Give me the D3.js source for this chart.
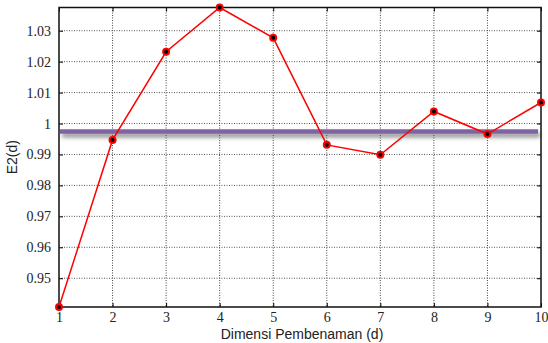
<!DOCTYPE html>
<html>
<head>
<meta charset="utf-8">
<script src="https://cdn.jsdelivr.net/npm/d3@7"></script>
<style>
  body { margin: 0; background: #fff; }
  svg text.tl { font-family: "Liberation Serif", "DejaVu Serif", serif; font-size: 14px; }
  svg text.al { font-family: "Liberation Sans", Arial, sans-serif; font-size: 14px; }
</style>
</head>
<body>
<svg id="chart" width="548" height="343"></svg>
<script>
// dimensi pembenaman vs E2(d)
var dims = [1, 2, 3, 4, 5, 6, 7, 8, 9, 10];
var e2Values = [0.9407, 0.9947, 1.0232, 1.0375, 1.0277, 0.9931, 0.9899, 1.0039, 0.9966, 1.0068];
var refLevel = 0.9974;
var yTickVals = [0.95, 0.96, 0.97, 0.98, 0.99, 1.00, 1.01, 1.02, 1.03];
var yTickLbls = ["0.95", "0.96", "0.97", "0.98", "0.99", "1", "1.01", "1.02", "1.03"];

var pLeft = 59, pRight = 541, pTop = 7.5, pBottom = 307;
var svg = d3.select("#chart");

var x = d3.scaleLinear().domain([1, 10]).range([pLeft, pRight]);
var y = d3.scaleLinear().domain(d3.extent(e2Values)).range([pBottom, pTop]);

var defs = svg.append("defs");
var filt = defs.append("filter").attr("id", "shadow")
  .attr("filterUnits", "userSpaceOnUse")
  .attr("x", 0).attr("y", 100).attr("width", 548).attr("height", 60);
filt.append("feDropShadow").attr("dx", 2).attr("dy", 3.5).attr("stdDeviation", 2)
  .attr("flood-color", "#555").attr("flood-opacity", 0.7);

// grid
var grid = svg.append("g");
grid.selectAll(".gx").data(dims.slice(1, -1)).enter().append("line")
  .attr("x1", function(d){ return x(d); }).attr("x2", function(d){ return x(d); })
  .attr("y1", pTop).attr("y2", pBottom)
  .attr("stroke", "#444").attr("stroke-width", 1).attr("stroke-dasharray", "1,1.5");
grid.selectAll(".gy").data(yTickVals).enter().append("line")
  .attr("x1", pLeft).attr("x2", pRight)
  .attr("y1", function(d){ return y(d); }).attr("y2", function(d){ return y(d); })
  .attr("stroke", "#555").attr("stroke-width", 1).attr("stroke-dasharray", "1,1.5");

function styleLbls(g) {
  g.attr("font-family", null).attr("font-size", null);
  g.select(".domain").remove();
  g.selectAll("text").attr("class", "tl").attr("fill", "#222");
}

// axes (ticks inward)
svg.append("g").attr("transform", "translate(0," + pBottom + ")")
  .call(d3.axisBottom(x).tickValues(dims).tickSize(-4).tickPadding(5).tickFormat(d3.format("d")))
  .call(styleLbls);
svg.append("g").attr("transform", "translate(0," + pTop + ")")
  .call(d3.axisTop(x).tickValues(dims).tickSize(-4).tickFormat(""))
  .call(styleLbls);
svg.append("g").attr("transform", "translate(" + pLeft + ",0)")
  .call(d3.axisLeft(y).tickValues(yTickVals).tickSize(-4).tickPadding(8)
    .tickFormat(function(d, i){ return yTickLbls[i]; }))
  .call(styleLbls);
svg.append("g").attr("transform", "translate(" + pRight + ",0)")
  .call(d3.axisRight(y).tickValues(yTickVals).tickSize(-4).tickFormat(""))
  .call(styleLbls);

// reference line
svg.append("line")
  .attr("x1", pLeft + 1).attr("x2", pRight - 3)
  .attr("y1", y(refLevel)).attr("y2", y(refLevel))
  .attr("stroke", "#8064a2").attr("stroke-width", 4.5)
  .attr("filter", "url(#shadow)");

// frame
svg.append("rect").attr("x", pLeft).attr("y", pTop)
  .attr("width", pRight - pLeft).attr("height", pBottom - pTop)
  .attr("fill", "none").attr("stroke", "#111").attr("stroke-width", 1.5);

// series
var line = d3.line().x(function(d, i){ return x(dims[i]); }).y(function(d){ return y(d); });
svg.append("path").datum(e2Values).attr("d", line)
  .attr("fill", "none").attr("stroke", "#ff0000").attr("stroke-width", 1.5);
svg.selectAll(".pt").data(e2Values).enter().append("circle")
  .attr("cx", function(d, i){ return x(dims[i]); })
  .attr("cy", function(d){ return y(d); })
  .attr("r", 3).attr("fill", "#000").attr("stroke", "#ff0000").attr("stroke-width", 2);

// labels
svg.append("text").attr("class", "al").attr("x", (pLeft + pRight) / 2 + 2).attr("y", 339)
  .attr("fill", "#222").attr("text-anchor", "middle").text("Dimensi Pembenaman (d)");
svg.append("text").attr("class", "al")
  .attr("transform", "translate(17," + ((pTop + pBottom) / 2) + ") rotate(-90)")
  .attr("fill", "#222").attr("text-anchor", "middle").text("E2(d)");
</script>
</body>
</html>
